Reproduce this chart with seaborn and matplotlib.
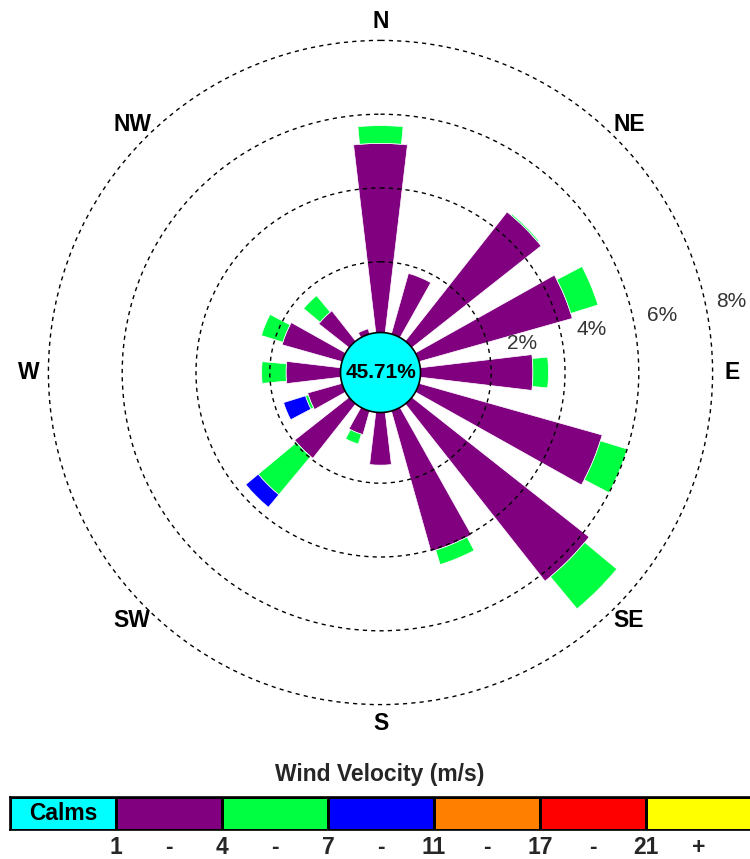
import numpy as np
import matplotlib
matplotlib.use("Agg")
import matplotlib.pyplot as plt
from matplotlib.colors import ListedColormap
import seaborn as sns

# ---- data (percent of all observations) ----
directions = ["N", "NNE", "NE", "ENE", "E", "ESE", "SE", "SSE",
              "S", "SSW", "SW", "WSW", "W", "WNW", "NW", "NNW"]
compass_labels = ["N", "NE", "E", "SE", "S", "SW", "W", "NW"]
calms_pct = 45.71
speed_1_4 = [5.21, 1.79, 4.54, 4.40, 3.13, 5.24, 6.20, 4.04,
             1.51, 0.75, 1.96, 1.05, 1.56, 1.77, 1.13, 0.23]
speed_4_7 = [0.48, 0.00, 0.04, 0.77, 0.42, 0.76, 1.13, 0.41,
             0.00, 0.28, 1.35, 0.08, 0.66, 0.61, 0.58, 0.00]
speed_7_11 = [0.00, 0.00, 0.00, 0.00, 0.00, 0.00, 0.00, 0.00,
              0.00, 0.00, 0.44, 0.62, 0.00, 0.00, 0.00, 0.00]
speed_11_17 = [0.0] * 16
speed_17_21 = [0.0] * 16
speed_21_up = [0.0] * 16
ring_pcts = [2, 4, 6, 8]
bin_edges = ["1", "4", "7", "11", "17", "21"]
legend_title = "Wind Velocity (m/s)"
calms_label = "Calms"

# ---- styling ----
colors = ["#00FFFF", "#800080", "#00FF40", "#0000FF", "#FF8000", "#FF0000", "#FFFF00"]
bar_widths_deg = [13.5, 10.5, 10.5, 10.5, 10.5, 10.5]
ring_label_offsets = [0.92, 0.83, 0.78, 0.70]
CALM_R = 1.0        # radial offset where the bars begin
CALM_DISC = 1.084   # drawn radius of the calm disc
R_MAX = 10.0

sns.set_style("white")
plt.rcParams["font.family"] = ["Liberation Sans", "DejaVu Sans"]

W_PX, H_PX = 750, 859
fig = plt.figure(figsize=(W_PX / 100, H_PX / 100), dpi=100)

# polar rose, centred at (380.5, 372.5) px with 36.9 px per percent
px_per_unit = 36.9
cx, cy = 380.5, 372.5
rad_px = R_MAX * px_per_unit
ax = fig.add_axes([(cx - rad_px) / W_PX, (H_PX - cy - rad_px) / H_PX,
                   2 * rad_px / W_PX, 2 * rad_px / H_PX], projection="polar")
ax.set_theta_zero_location("N")
ax.set_theta_direction(-1)
ax.set_facecolor("white")
ax.spines["polar"].set_visible(False)

theta = np.deg2rad(np.arange(len(directions)) * 22.5)
series = [speed_1_4, speed_4_7, speed_7_11, speed_11_17, speed_17_21, speed_21_up]
base = np.full(len(directions), CALM_R)
for vals, col, wdeg in zip(series, colors[1:], bar_widths_deg):
    vals = np.asarray(vals, dtype=float)
    mask = vals > 0
    if mask.any():
        ax.bar(theta[mask], vals[mask], width=np.deg2rad(wdeg), bottom=base[mask],
               color=col, edgecolor="white", linewidth=0.5, zorder=1)
    base = base + vals

# dashed percentage rings drawn over the bars
ax.set_axisbelow(False)
ax.set_xticks([])
ax.set_yticks([CALM_R + p for p in ring_pcts])
ax.set_yticklabels([])
ax.xaxis.grid(False)
ax.yaxis.grid(True, color="black", linestyle=(0, (3, 3)), linewidth=1.0)
ax.set_ylim(0, R_MAX)

for p, off in zip(ring_pcts, ring_label_offsets):
    ax.text(np.deg2rad(78.5), CALM_R + p + off, f"{p}%", color="#333333",
            fontsize=15, ha="center", va="center")

for i, lab in enumerate(compass_labels):
    ax.text(np.deg2rad(i * 45), 9.52, lab, ha="center", va="center",
            fontsize=16.5, fontweight="bold", color="black")

# calm disc in the centre
t = np.linspace(0, 2 * np.pi, 361)
ax.fill(t, np.full_like(t, CALM_DISC), facecolor=colors[0], edgecolor="black",
        linewidth=1.2, zorder=5)
ax.text(0, 0, f"{calms_pct:.2f}%", ha="center", va="center", fontsize=15,
        fontweight="bold", color="black", zorder=6)

# ---- speed legend strip ----
fig.text(380 / W_PX, 1 - 775 / H_PX, legend_title, ha="center", va="center",
         fontsize=16.5, fontweight="bold")

x0, x1, y0, y1 = 10, 752, 797, 830
lax = fig.add_axes([x0 / W_PX, (H_PX - y1) / H_PX, (x1 - x0) / W_PX, (y1 - y0) / H_PX])
cells = np.arange(len(colors))[None, :]
annot = np.array([[calms_label] + [""] * (len(colors) - 1)])
sns.heatmap(cells, cmap=ListedColormap(colors), vmin=0, vmax=len(colors) - 1,
            cbar=False, linewidths=1, linecolor="black", annot=annot, fmt="",
            annot_kws=dict(fontsize=16.5, fontweight="bold", color="black"),
            xticklabels=False, yticklabels=False, ax=lax)
for s in lax.spines.values():
    s.set_visible(True)
    s.set_color("black")
    s.set_linewidth(1.2)

label_y = 1.52
for k, edge in enumerate(bin_edges):
    lax.text(k + 1, label_y, edge, ha="center", va="center", fontsize=16.5,
             fontweight="bold", clip_on=False)
    if k < len(bin_edges) - 1:
        lax.text(k + 1.5, label_y, "-", ha="center", va="center", fontsize=16.5,
                 fontweight="bold", clip_on=False)
lax.text(len(bin_edges) + 0.5, label_y, "+", ha="center", va="center", fontsize=16.5,
         fontweight="bold", clip_on=False)

fig.savefig("out.png", dpi=100)
